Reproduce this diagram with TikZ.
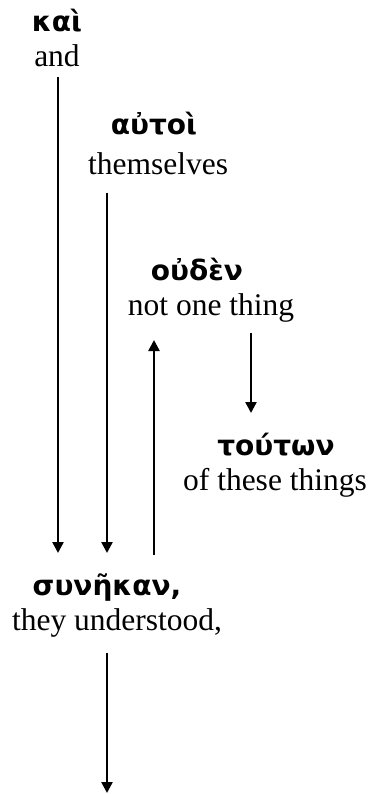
\documentclass[tikz,border=0pt]{standalone}
\usepackage{fontspec}
\setmainfont{Liberation Serif}
\newfontfamily\grk{DejaVu Sans}
\usetikzlibrary{arrows.meta}
\tikzset{
  gr/.style={anchor=base,inner sep=0pt,font=\grk\bfseries\fontsize{28}{31}\selectfont},
  en/.style={anchor=base,inner sep=0pt,font=\fontsize{31.5}{36}\selectfont},
  conn/.style={line width=2.4pt,-{Triangle[length=11pt,width=11pt]}}
}
\begin{document}
\begin{tikzpicture}[x=1pt,y=-1pt]
\useasboundingbox (0,0) rectangle (370,794);
\node[gr] (g1) at (57,32) {καὶ};
\node[en] (e1) at (57,67) {and};
\node[gr] (g2) at (154,135) {αὐτοὶ};
\node[en] (e2) at (158,175) {themselves};
\node[gr] (g3) at (197,280) {οὐδὲν};
\node[en] (e3) at (211,315) {not one thing};
\node[gr] (g4) at (276,455) {τούτων};
\node[en] (e4) at (275,490) {of these things};
\node[gr] (g5) at (107,595) {συνῆκαν,};
\node[en] (e5) at (117,630) {they understood,};
\coordinate (a1s) at (58,77);
\coordinate (a1e) at (58,553);
\coordinate (a2s) at (107,193);
\coordinate (a2e) at (107,553);
\coordinate (a3s) at (154,555);
\coordinate (a3e) at (154,340);
\coordinate (a4s) at (251,333);
\coordinate (a4e) at (251,413);
\coordinate (a5s) at (107,653);
\coordinate (a5e) at (107,793);
\draw[conn] (a1s) -- (a1e);
\draw[conn] (a2s) -- (a2e);
\draw[conn] (a3s) -- (a3e);
\draw[conn] (a4s) -- (a4e);
\draw[conn] (a5s) -- (a5e);
\end{tikzpicture}
\end{document}
